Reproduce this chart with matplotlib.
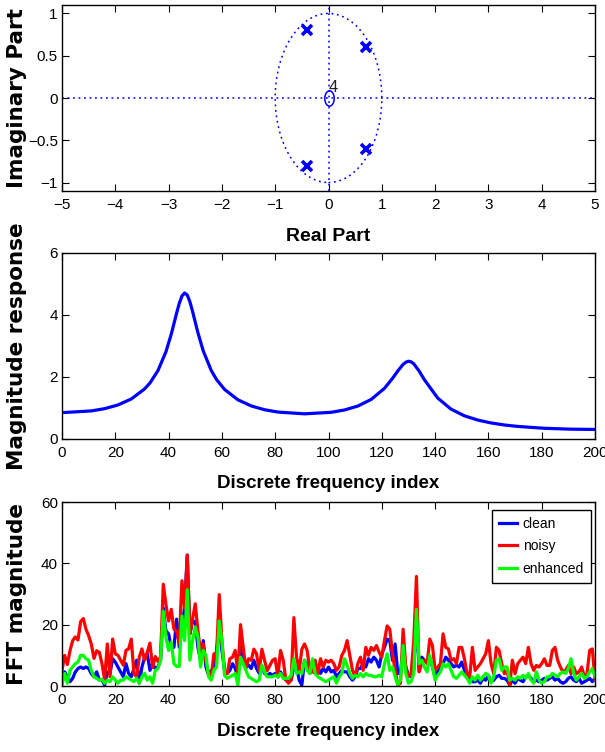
import matplotlib
matplotlib.use("Agg")
import matplotlib.pyplot as plt
import matplotlib.patches as mpatches
from matplotlib.path import Path
from matplotlib.transforms import Affine2D
import numpy as np

plt.rcParams['font.family'] = ['Liberation Sans', 'DejaVu Sans']
plt.rcParams['axes.unicode_minus'] = True

# ---- pole / zero data ----
pole_re = [0.7, 0.7, -0.4, -0.4]
pole_im = [0.6, -0.6, 0.8, -0.8]
zero_re = [0.0]
zero_im = [0.0]
zero_mult = '4'

# ---- magnitude response ----
mag_idx = [1, 11, 16, 21, 26, 31, 33, 36, 39, 41, 43, 44, 45, 46, 47, 48, 49,
           51, 53, 56, 58, 61, 66, 71, 76, 81, 91, 101, 106, 111, 116, 121,
           124, 126, 128, 129, 130, 131, 132, 134, 136, 141, 146, 151, 156,
           161, 166, 171, 181, 191, 200]
mag_val = [0.855, 0.906, 0.979, 1.098, 1.291, 1.616, 1.806, 2.206, 2.815,
           3.382, 4.058, 4.373, 4.611, 4.71, 4.644, 4.426, 4.113, 3.429,
           2.842, 2.210, 1.916, 1.599, 1.265, 1.067, 0.944, 0.869, 0.812,
           0.861, 0.936, 1.063, 1.275, 1.635, 1.953, 2.194, 2.408, 2.477,
           2.508, 2.489, 2.425, 2.193, 1.910, 1.319, 0.962, 0.748, 0.611,
           0.518, 0.452, 0.406, 0.346, 0.317, 0.308]

# ---- FFT magnitudes, index 0..200 ----
clean = [3.5, 4.6, 3, 1.4, 2.5, 4.6, 5.7, 6.2, 5.7, 6.2, 5.7, 4, 3, 4.6, 2, 2, 0.3, 4.6, 4.1, 8.9,
         7.8, 6.2, 4.6, 3, 7.3, 4.1, 3, 5.7, 8.4, 0.9, 6.2, 9.4, 10.5, 5.1, 7.3, 5.7, 6.2, 8.4, 25.5, 18,
         17, 12.6, 12.6, 21.8, 12.6, 19, 25.5, 42.7, 17, 21.2, 21, 12.6, 8.4, 14.8, 6.2, 3.5, 5.1, 5.7, 11.6, 19.6,
         11.6, 5.1, 4.1, 5.1, 7.3, 5.7, 3, 13.7, 9.4, 6.2, 6.8, 5.7, 8.4, 5.7, 4.1, 6.2, 4.1, 3.5, 4.1, 3.5,
         4.1, 3, 4.6, 3, 1.9, 1.4, 1.9, 6.2, 6.2, 1.9, 0.3, 8.4, 6.2, 4.1, 5.1, 4.1, 6.2, 4.1, 5.7, 4.6,
         6.2, 4.6, 5.1, 3, 4.1, 5.1, 4.6, 4.6, 3, 1.9, 3, 5.7, 5.7, 7.3, 6.2, 8.9, 7.8, 9.4, 8.4, 6.2,
         10.5, 12.6, 15.3, 14.8, 8.4, 13.7, 4.1, 4.1, 11.6, 6.2, 3.5, 3, 5.1, 24, 5.1, 9.4, 8.4, 7.8, 8.9, 6.2,
         3, 4.6, 5.7, 7.3, 9.4, 8.4, 7.3, 6.2, 6.8, 6.2, 7.8, 5.1, 3.5, 1.9, 1.4, 1.4, 1.9, 0.9, 2.5, 1.9,
         3.5, 1.4, 1.9, 3, 3.5, 2.5, 2.5, 1.9, 0.3, 1.9, 0.9, 2.5, 1.9, 1.4, 3, 3.5, 2.5, 1.4, 1.9, 1.4,
         1.9, 2.5, 1.9, 2.5, 3, 1.9, 2.5, 1.4, 0.9, 1.4, 2.5, 3, 1.9, 1.4, 2.5, 0.9, 1.4, 1.9, 2.5, 1.4,
         2.5]
noisy = [5, 10, 7, 11.5, 14.8, 16, 15, 21, 22, 18.5, 16.4, 13.7, 9, 11.5, 11, 7.3, 2, 13.7, 3, 15.3,
         10.5, 10, 8.4, 6.8, 11.6, 12.1, 15.3, 4, 3, 9.4, 12.1, 8.4, 11, 14, 6, 9.6, 8, 9.6, 33.2, 26.6,
         21.2, 25, 18.5, 18, 14, 34.3, 25.5, 42.7, 17, 22, 26.8, 18, 11, 13.7, 8, 4, 3, 10.5, 10.5, 29.8,
         14.8, 5, 4, 8.9, 9.4, 11.6, 4, 20, 12.6, 5.7, 8.9, 8.4, 12, 10.5, 5, 12, 8.4, 5, 6.7, 8.4,
         8.9, 3, 11.6, 8.4, 2, 0.9, 2, 22.3, 9.4, 5, 12, 13.7, 11.6, 5, 4.6, 8.4, 4, 8.9, 6.2, 8.4,
         7.8, 8.4, 7.3, 5.1, 6.2, 10, 11.6, 14.8, 10, 5.1, 3, 7.3, 9.4, 5.1, 12.6, 10, 12.6, 11.6, 13.2, 11,
         9.4, 14.8, 19.6, 18.5, 10.5, 5.1, 0.3, 0.9, 18.5, 6.2, 3, 4, 14.8, 35.7, 4.6, 7.3, 8.4, 7.3, 15.3, 13.2,
         5.1, 6.2, 7.3, 17, 12.6, 12.1, 8.4, 8.9, 7.3, 12.6, 12.6, 8.9, 4, 3, 12.6, 5.1, 6.2, 7.3, 8.9, 10.5,
         14.8, 7.3, 4, 12.6, 11.6, 7.3, 4, 5.1, 0.3, 8.4, 4, 7.3, 8.4, 9.4, 7.3, 12.6, 7.3, 5.1, 6.7, 6.2,
         7.3, 8.9, 6.7, 6.7, 11.6, 12.6, 8.4, 6.2, 4.6, 5.1, 6.7, 4, 6.2, 4, 4.6, 6.2, 3, 4, 11.6, 12.1,
         2]
enhanced = [0.3, 4.1, 0.9, 5.1, 6.2, 7.3, 7.8, 10, 10, 8.9, 8.4, 5.1, 3, 2.5, 1.9, 2.2, 0.9, 1.9, 1.4, 3,
            1.9, 0.9, 1.9, 1.9, 3, 2.5, 1.9, 1.4, 2.5, 0.9, 3, 4.1, 1.9, 3, 0.9, 5.1, 5.7, 8.4, 24.4, 15.9,
            11.6, 14.3, 7.3, 6.4, 6.4, 22.8, 14.8, 31.4, 8.4, 14.8, 19.3, 15.9, 6.2, 11.6, 10, 3, 1.9, 5.1, 6.2, 21.2,
            14.8, 3.5, 2.5, 3, 3.5, 4.1, 0.3, 9.4, 7.3, 5.1, 3, 2.5, 1.9, 1.4, 1.9, 6.8, 4.6, 3, 3, 3,
            3.5, 3, 4.1, 2.5, 2.5, 2.5, 3.5, 8.9, 4.1, 4.6, 4.1, 8.4, 5.1, 4.1, 8.9, 4.1, 3, 2.5, 1.9, 1.4,
            1.9, 2.5, 3, 0.9, 3, 4.1, 8.9, 6.8, 4.1, 2.5, 3.5, 3, 4.1, 3, 4.1, 3.5, 3.5, 3, 3, 3.5,
            3, 7.3, 10.5, 5.1, 6.2, 3, 0.3, 1.9, 13.2, 4.1, 0.9, 1.4, 4.1, 25, 7.3, 8.4, 6.2, 4.6, 10, 6.2,
            1.9, 3.5, 4.6, 7.3, 6.2, 7.3, 5.1, 3, 2.5, 3.5, 4.6, 3.5, 2.5, 0.9, 3, 1.9, 3.5, 1.9, 3, 4.1,
            3.5, 0.9, 3, 8.4, 8.9, 5.1, 6.2, 6.2, 1.9, 2.5, 1.9, 3, 2.5, 3.5, 2.5, 4.1, 1.9, 0.9, 4.6, 1.9,
            0.9, 1.4, 3, 3, 4.1, 3.5, 3, 4.1, 4.6, 4.1, 5.7, 8.9, 4.1, 1.9, 3, 4.1, 2.5, 3, 4.6, 5.7,
            3]
fft_labels = ['clean', 'noisy', 'enhanced']
fft_colors = ['#0000ff', '#ff0000', '#00ff00']

tick_font = 11
label_font = 13.5
ylab_font = dict(family='DejaVu Sans', weight='bold', size=15.5)
ylab_x = -0.066


def style_axes(ax):
    ax.tick_params(direction='in', length=5, width=0.8, top=True, right=True,
                   labelsize=tick_font)
    ax.tick_params(axis='x', pad=5)
    ax.tick_params(axis='y', pad=3)
    for s in ax.spines.values():
        s.set_linewidth(1.0)


fig = plt.figure(figsize=(6.05, 7.52), dpi=100)
W, H = 605.0, 752.0
left = 62 / W
width = 533 / W

# ---------------- z-plane ----------------
ax1 = fig.add_axes([left, 1 - 191 / H, width, 186 / H])
dot = (0, (1.2, 2.4))
ax1.axhline(0, color='#0000ff', lw=1.1, ls=dot)
ax1.axvline(0, color='#0000ff', lw=1.1, ls=dot)
ax1.add_patch(mpatches.Circle((0, 0), 1, fill=False, ec='#0000ff', lw=1.1, ls=dot))
zero_marker = Affine2D().scale(0.62, 1.0).transform_path(Path.unit_circle())
ax1.plot(zero_re, zero_im, ls='none', marker=zero_marker, ms=11, mfc='none',
         mec='#0000ff', mew=1.1)
ax1.plot(pole_re, pole_im, ls='none', marker='x', ms=7, mew=2.6, color='#0000ff')
ax1.text(0.0, 0.04, zero_mult, fontsize=12, ha='left', va='bottom', color='#202020')
ax1.set_xlim(-5, 5)
ax1.set_ylim(-1.1, 1.1)
ax1.set_xticks(np.arange(-5, 6, 1))
ax1.set_yticks([-1, -0.5, 0, 0.5, 1])
ax1.set_yticklabels(['\u22121', '\u22120.5', '0', '0.5', '1'])
ax1.set_xticklabels(['\u22125', '\u22124', '\u22123', '\u22122', '\u22121',
                     '0', '1', '2', '3', '4', '5'])
style_axes(ax1)
ax1.set_xlabel('Real Part', fontsize=label_font + 0.5, fontweight='bold')
ax1.set_ylabel('Imaginary Part', **ylab_font)
ax1.xaxis.set_label_coords(0.5, -0.2)
ax1.yaxis.set_label_coords(ylab_x, 0.5)

# ---------------- magnitude response ----------------
ax2 = fig.add_axes([left, 1 - 439 / H, width, 186 / H])
ax2.plot(mag_idx, mag_val, color='#0000ff', lw=2.3)
ax2.set_xlim(0, 200)
ax2.set_ylim(0, 6)
ax2.set_xticks(np.arange(0, 201, 20))
ax2.set_yticks([0, 2, 4, 6])
style_axes(ax2)
ax2.set_xlabel('Discrete frequency index', fontsize=label_font, fontweight='bold')
ax2.set_ylabel('Magnitude response', **ylab_font)
ax2.xaxis.set_label_coords(0.5, -0.195)
ax2.yaxis.set_label_coords(ylab_x, 0.5)

# ---------------- FFT magnitudes ----------------
ax3 = fig.add_axes([left, 1 - 686 / H, width, 184 / H])
for series, lab, col in zip([clean, noisy, enhanced], fft_labels, fft_colors):
    ax3.plot(np.arange(len(series)), series, color=col, lw=2.3, label=lab)
ax3.set_xlim(0, 200)
ax3.set_ylim(0, 60)
ax3.set_xticks(np.arange(0, 201, 20))
ax3.set_yticks([0, 20, 40, 60])
style_axes(ax3)
ax3.set_xlabel('Discrete frequency index', fontsize=label_font, fontweight='bold')
ax3.set_ylabel('FFT magnitude', **ylab_font)
ax3.xaxis.set_label_coords(0.5, -0.2)
ax3.yaxis.set_label_coords(ylab_x, 0.5)
leg = ax3.legend(loc='upper right', bbox_to_anchor=(0.9925, 0.9565), fontsize=10,
                 fancybox=False, framealpha=1, edgecolor='black', handlelength=1.3,
                 handletextpad=0.45, labelspacing=0.6, borderpad=0.5, borderaxespad=0)
leg.get_frame().set_linewidth(1.0)

fig.savefig('out.png', dpi=100)
